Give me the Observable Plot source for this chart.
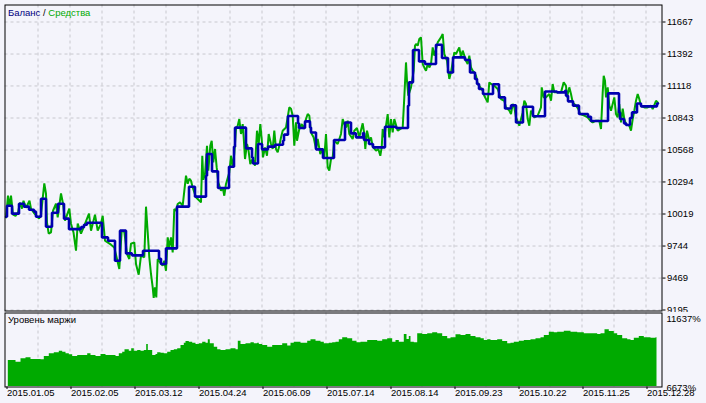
<!DOCTYPE html>
<html><head><meta charset="utf-8">
<script src="https://cdn.jsdelivr.net/npm/d3@7"></script>
<script src="https://cdn.jsdelivr.net/npm/@observablehq/plot@0.6"></script>
<style>
html,body{margin:0;padding:0;background:#F4F4FB;}
#wrap{position:relative;width:706px;height:403px;overflow:hidden;background:#F4F4FB;}
#wrap svg{position:absolute;left:0;}
</style></head><body><div id="wrap"></div>
<script>
// ---- x axis (deal index) ticks and labels ----
const xLabelIdx = [0,64,128,192,256,320,384,448,512,576,640];
const xLabels = ["2015.01.05","2015.02.05","2015.03.12","2015.04.24","2015.06.09","2015.07.14","2015.08.14","2015.09.23","2015.10.22","2015.11.25","2015.12.28"];
const xGridIdx = [32,64,96,128,160,192,224,256,288,320,352,384,416,448,480,512,544,576,608,640];
// ---- y ticks ----
const yTicks = [9195,9469,9744,10019,10294,10568,10843,11118,11392,11667];
const marginTicks = [6673,11637];

// ---- Balance (step) ----
const balIdx = [0,1,6,13,18,23,28,30,35,40,46,52,58,63,75,78,81,96,102,109,114,120,126,137,153,155,160,171,183,189,200,201,206,212,223,228,229,240,246,247,252,256,262,269,277,278,282,292,293,299,304,305,310,317,328,339,345,350,357,358,363,367,379,390,402,403,407,413,419,430,436,442,447,459,464,469,471,473,477,487,493,499,505,510,517,527,539,551,559,560,562,567,573,582,585,602,613,614,618,620,624,626,631,635,651,652];
const balVal = [9996,10090,10022,10107,10082,10056,10039,9996,10150,9910,10030,10107,9979,9889,9906,9927,9944,9818,9790,9618,9876,9681,9664,9704,9635,9590,9724,10082,10253,10168,10348,10534,10385,10242,10425,10597,10760,10582,10505,10453,10620,10574,10597,10614,10648,10700,10860,10797,10757,10814,10762,10719,10574,10500,10654,10805,10711,10677,10714,10654,10620,10591,10768,10757,10949,11149,11427,11329,11307,11472,11358,11234,11363,11341,11234,11178,11135,11092,11049,11133,11020,10925,10951,10805,10940,10858,11071,11063,11077,11034,10986,10949,10877,10854,10817,11054,10891,10834,10797,10783,10843,10891,10968,10943,10968,10968];

// ---- Equity ----
const eqIdx = [0,2,3.5,5,7,9.5,12,14,16,17.5,20,23.5,25,28.5,33,35,38.3,40,41,42.7,45,47,50,51.7,55,57,59,63.3,65,67.5,70,71.7,75,78.3,83,85,89,91.7,95,96.7,99,105,108.3,113.3,115.7,118.3,121,123.3,125,128.3,130,132.7,135,138.3,140,141.7,143.3,145,146.7,147.7,149,150.3,151.7,154.3,156.7,158.3,160,161.7,163.3,165,166.7,168.3,170,171.7,174,176.7,180,181.7,183.3,185,186.7,190,191.7,195,196.3,197.3,199,201,202.3,204.3,205.7,207.3,209,210.7,212.3,215,216.7,218.3,220,223.3,225,226.7,228.3,230,231.7,233.3,235,236.7,237.7,239,241,242.3,244.3,246.7,249,251,252.7,254.3,255.7,257,259,261,262.7,265,266.7,268.3,270,271.7,273.3,275,276.7,280,283.3,285,286.7,288.3,290,291,293.3,295.7,297.7,300,301.7,303.3,305,307.7,310,311.7,314.3,316.7,318.3,320,321.7,323.3,325,326.7,328.3,331.7,335,336.7,338.3,340,341.7,343.3,346.7,348.3,351,353.3,356.7,358.3,359.3,361,363.3,365,366.7,370,372.3,374.3,375.7,376.7,378.3,381.7,383.3,385,386.7,388.3,391.7,396.7,398.3,400,401,402.3,405,407.7,409,410,411.7,413.3,415,416.7,418.3,420,421.7,423.3,425,426.7,428.3,431.7,435,436.7,438.3,441,443.3,445,448.3,450,453.3,455,456.7,460,461.7,463.3,465,466.7,468.3,470,471.7,474.3,476.7,478.3,481.7,483.3,485,488.3,491.7,495,498.3,500,503.3,505,506.7,508.3,510,513.3,516.7,518.3,520,521.7,523.3,525,526.7,528.3,531.7,535,535.7,537.7,540,543.3,545,546.7,548.3,551.7,555,557.7,560,561,563.3,565,566.7,570,572.3,574.3,578.3,581.7,584.3,586.7,590,593.3,595,596.7,597.7,599,600,601.7,603.3,605,608.3,610,611.7,613.3,615,616.7,618.3,620,623.3,625,626.7,628.3,630,631.7,633.3,635,638.3,641.7,645,646.7,650,651.7];
const eqVal = [9990,10176,10082,10176,10013,10004,10030,10116,10065,10133,10073,10133,10065,10022,9979,10013,10282,10193,9944,9850,9861,10047,10107,9990,10196,10107,9962,10065,9936,9861,9704,9936,9850,9919,10022,9876,10013,9876,9936,10004,9790,9756,9732,9547,9876,9867,9676,9633,9764,9775,9590,9498,9661,9647,10082,9861,9647,9504,9389,9298,9389,9303,9633,9601,9575,9618,9532,9818,9732,9818,9689,10062,10047,10105,10119,10090,10348,10279,10322,10305,10247,10162,10148,10119,10519,10313,10362,10605,10391,10605,10648,10462,10577,10419,10290,10219,10247,10176,10277,10376,10519,10419,10537,10749,10777,10834,10706,10791,10676,10491,10620,10577,10448,10491,10434,10734,10620,10791,10663,10505,10591,10519,10706,10620,10577,10734,10577,10548,10605,10676,10734,10762,10934,10923,10863,10605,10805,10648,10749,10791,10749,10834,10877,10863,10719,10676,10577,10663,10534,10577,10505,10706,10419,10391,10491,10505,10648,10620,10706,10834,10791,10762,10820,10706,10663,10734,10757,10677,10797,10706,10577,10734,10648,10677,10597,10562,10577,10519,10591,10749,10677,10877,10677,10834,10719,10834,10734,10762,11020,11320,11163,11034,11106,11249,11464,11478,11464,11521,11535,11306,11277,11249,11306,11277,11306,11449,11378,11492,11535,11564,11392,11335,11178,11235,11406,11392,11449,11363,11421,11335,11306,11378,11277,11249,11235,11206,11135,11106,11077,11034,10977,11149,11135,11120,11092,11006,10991,10934,10906,10877,10963,10934,10848,10777,10891,10991,10963,10834,10777,10906,10877,10848,10863,10934,11106,11020,11020,11049,10991,11135,11063,11063,11063,11149,11120,11020,11106,11049,10977,10949,10920,10877,10863,10848,10820,10805,10820,10820,10749,11063,11206,11163,11020,11106,10949,10906,11020,10877,10848,10963,10805,10923,10834,10791,10777,10734,10834,10906,10991,11049,11006,10949,10934,10934,10949,10920,10991,10977];

// ---- Margin level (%) ----
const mIdx = [2.3,8,10,15,20,25,35,38.3,43.3,48.3,53.3,56.7,60,63.3,66.7,71.7,78.3,81.7,85,90,95,100,105,110,113.3,116.7,119,123.3,125.7,128.3,131.7,135,138.3,140.7,142.3,146.7,150,151.7,155,158.3,161.7,165,168.3,171.7,175,178.3,180,183.3,186.7,190,193.3,196.7,200,202.3,204.3,208.3,211.7,215,220,225,230,232.3,235,240,245,248.3,251.7,253.3,256.7,261.7,266.7,271.7,276.7,281.7,285,288.3,295,301.7,305,310,315,318.3,323.3,326.7,330,333.3,336.7,341.7,346.7,351,355,361.7,371.7,376.7,381.7,386.7,390,393.3,398.3,401,403.3,405,408.3,411.7,416.7,421.7,426.7,431.7,436.7,441.7,445,450,455,460,465,470,475,478.3,481.7,485,491.7,496.7,501.7,505,508.3,513.3,518.3,525,530,535,538.3,543.3,548.3,551.7,558.3,565,571.7,578.3,585,591.7,595,599,603.3,608.3,611.7,616.7,621.7,625,628.3,633.3,638.3,645,650,651];
const mVal = [8441,8441,8325,8557,8625,8509,8489,8713,8897,8965,9073,9005,8897,8829,8713,8781,8781,8897,8781,8713,8849,8781,8781,8713,8897,9005,9169,9073,9237,9073,9121,9073,9121,9529,9121,8781,8849,8965,8938,8897,9005,9121,9169,9237,9461,9617,9733,9685,9617,9529,9577,9685,9617,9849,9577,9345,9169,9121,9169,9237,9169,9753,9529,9577,9645,9577,9617,9529,9461,9345,9461,9461,9577,9421,9617,9685,9617,9753,9849,9753,9685,9577,9617,9645,9685,9849,9985,9917,9753,9645,9685,9801,9753,9849,9917,9685,9801,9685,10209,9869,10073,9685,9645,10257,10209,10257,10325,10257,10073,9917,9985,10189,10141,10209,10073,9985,9917,9801,9849,9801,9849,9733,9577,9617,9685,9753,9801,9849,9917,9985,10141,10365,10325,10365,10433,10365,10325,10257,10257,10209,10257,10529,10413,10257,10141,9917,9849,9801,9957,10073,9985,9957,9985,9985];

const BG = "#F4F4FB", GREEN = "#00AA00", BLUE = "#0000B0", GRID = "#C8C8CE";
const FONT = "'Liberation Sans', Arial, sans-serif";

const balance = balIdx.map((i, k) => ({i, v: balVal[k]}));
const equity = eqIdx.map((i, k) => ({i, v: eqVal[k]}));
const margin = mIdx.map((i, k) => ({i, v: mVal[k]}));

const xScale = {domain: [0, 656], range: [5.5, 661.5]};

const main = Plot.plot({
  width: 706, height: 312,
  marginLeft: 4.5, marginTop: 4.5, marginRight: 44.5, marginBottom: 1.5,
  style: {background: "transparent", fontFamily: FONT, fontSize: "9.5px", color: "#000", overflow: "hidden"},
  x: {...xScale, axis: null},
  y: {domain: [9195, 11667], range: [309.5, 21.5]},
  marks: [
    Plot.gridX(xGridIdx, {stroke: GRID, strokeOpacity: 1, strokeDasharray: "3,3"}),
    Plot.gridY(yTicks, {stroke: GRID, strokeOpacity: 1, strokeDasharray: "3,3"}),
    Plot.line(equity, {x: "i", y: "v", stroke: GREEN, strokeWidth: 2, strokeLinejoin: "miter", clip: true}),
    Plot.line(balance, {x: "i", y: "v", stroke: BLUE, strokeWidth: 2.6, curve: "step-after", strokeLinejoin: "miter", clip: true}),
    Plot.frame({stroke: "#000", strokeWidth: 1}),
    Plot.axisY(yTicks, {anchor: "right", label: null, tickSize: 3, tickPadding: 2, tickFormat: d => String(d), stroke: "#000", fill: "#000"})
  ]
});
main.style.top = "0px";

const sub = Plot.plot({
  width: 706, height: 91,
  marginLeft: 4.5, marginTop: 0.5, marginRight: 44.5, marginBottom: 16.5,
  style: {background: BG, fontFamily: FONT, fontSize: "9.5px", color: "#000"},
  x: xScale,
  y: {domain: [6673, 11637], range: [74, 1], axis: null},
  marks: [
    Plot.gridX(xGridIdx, {stroke: GRID, strokeOpacity: 1, strokeDasharray: "3,3"}),
    Plot.areaY(margin, {x: "i", y1: marginTicks[0], y2: "v", fill: GREEN, curve: "step-after", clip: true}),
    Plot.frame({stroke: "#000", strokeWidth: 1}),
    Plot.axisX(xLabelIdx, {anchor: "bottom", label: null, tickSize: 2.5, tickPadding: -0.5, textAnchor: "start", dx: 1,
      tickFormat: d => xLabels[xLabelIdx.indexOf(d)], stroke: "#000", fill: "#000"}),
    Plot.text([marginTicks[1]], {y: d => d, text: d => d + "%", frameAnchor: "right", dx: 4.5, dy: 5.5, textAnchor: "start", fill: "#000"}),
    Plot.text([marginTicks[0]], {y: d => d, text: d => d + "%", frameAnchor: "right", dx: 4.5, dy: 1.5, textAnchor: "start", fill: "#000"})
  ]
});
sub.style.top = "312px";

const wrap = document.getElementById("wrap");
wrap.appendChild(main);
wrap.appendChild(sub);

// Panel titles as real SVG text
const t = d3.select(main).append("text")
  .attr("x", 8).attr("y", 13).attr("dy", "0.35em").attr("text-anchor", "start")
  .style("font-family", FONT).style("font-size", "9.5px");
t.append("tspan").attr("fill", "#000080").text("Баланс");
t.append("tspan").attr("fill", "#000").text(" / ");
t.append("tspan").attr("fill", GREEN).text("Средства");

d3.select(sub).append("text")
  .attr("x", 8).attr("y", 8).attr("dy", "0.35em").attr("text-anchor", "start")
  .attr("fill", "#000")
  .style("font-family", FONT).style("font-size", "9.5px")
  .text("Уровень маржи");
</script>
</body></html>
